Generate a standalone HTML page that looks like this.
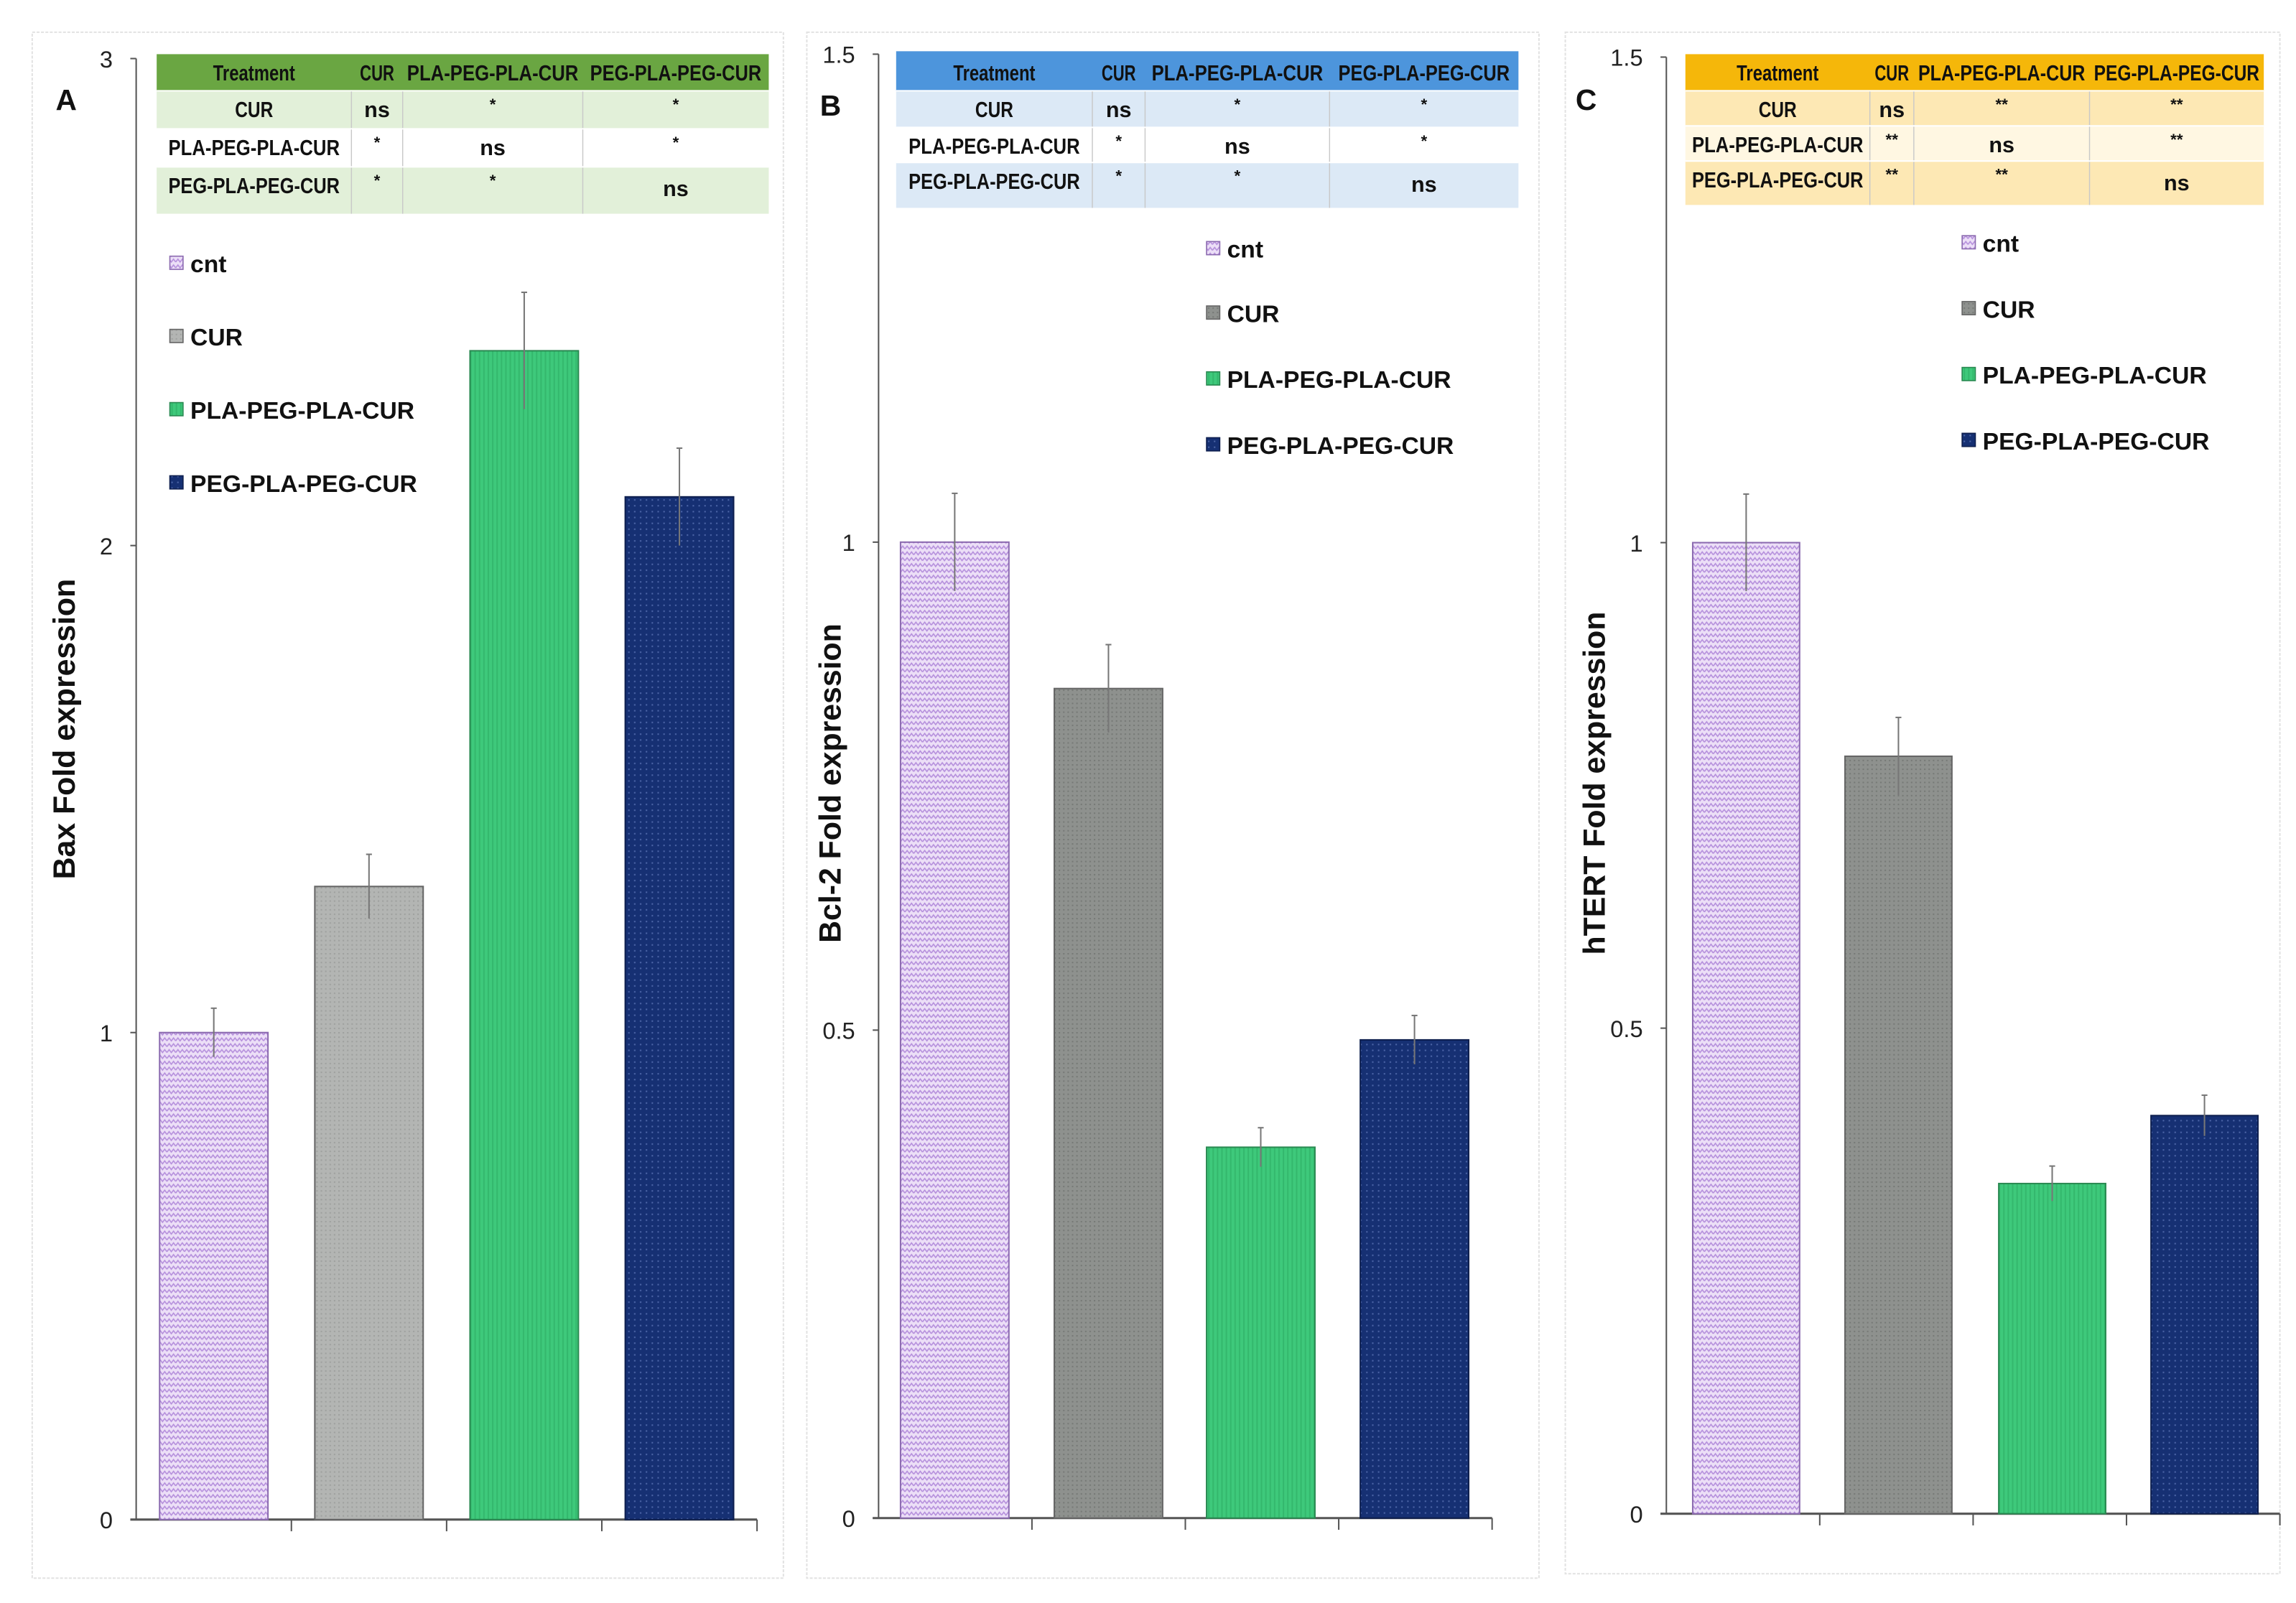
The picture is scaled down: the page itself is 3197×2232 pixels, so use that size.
<!DOCTYPE html>
<html><head><meta charset="utf-8"><style>
html,body{margin:0;padding:0;background:#fff}
svg{display:block}
text{font-family:"Liberation Sans",sans-serif}
</style></head><body>
<svg id="fig" xmlns="http://www.w3.org/2000/svg" width="3197" height="2232" viewBox="0 0 1568 1095" preserveAspectRatio="none">
<defs>
<pattern id="pcnt" width="6" height="4" patternUnits="userSpaceOnUse"><rect width="6" height="4" fill="#ecdff7"/><path d="M0 3 L1.5 1 L3 3 L4.5 1 L6 3" stroke="#b58fdc" stroke-width="0.8" fill="none"/></pattern>
<pattern id="pcurA" width="3" height="3" patternUnits="userSpaceOnUse"><rect width="3" height="3" fill="#b3b5b3"/><rect width="1" height="1" fill="#9ea09e"/></pattern>
<pattern id="pcur" width="3" height="3" patternUnits="userSpaceOnUse"><rect width="3" height="3" fill="#8e918e"/><rect width="1" height="1" fill="#767976"/></pattern>
<pattern id="ppla" width="3" height="3" patternUnits="userSpaceOnUse"><rect width="3" height="3" fill="#3ec97b"/><rect width="1" height="3" fill="#34b86d"/></pattern>
<pattern id="ppeg" width="4" height="4" patternUnits="userSpaceOnUse"><rect width="4" height="4" fill="#163073"/><rect x="1" y="1" width="1" height="1" fill="#4d66a8"/></pattern>
</defs>
<g id="root"></g>
</svg>
<script>
const categories = ["cnt","CUR","PLA-PEG-PLA-CUR","PEG-PLA-PEG-CUR"];
const valuesA = [1.0, 1.3, 2.4, 2.1];
const errorsA = [0.05, 0.066, 0.12, 0.1];
const ticksA = [0, 1, 2, 3];
const valuesB = [1.0, 0.85, 0.38, 0.49];
const errorsB = [0.05, 0.045, 0.02, 0.025];
const ticksB = [0, 0.5, 1, 1.5];
const valuesC = [1.0, 0.78, 0.34, 0.41];
const errorsC = [0.05, 0.04, 0.018, 0.021];
const ticksC = [0, 0.5, 1, 1.5];
const sigA = [["ns","*","*"],["*","ns","*"],["*","*","ns"]];
const sigB = [["ns","*","*"],["*","ns","*"],["*","*","ns"]];
const sigC = [["ns","**","**"],["**","ns","**"],["**","**","ns"]];

const NS="http://www.w3.org/2000/svg";
const root=document.getElementById('root');
function el(tag,attrs,parent,txt){const e=document.createElementNS(NS,tag);for(const k in attrs)e.setAttribute(k,attrs[k]);if(txt!==undefined)e.textContent=txt;(parent||root).appendChild(e);return e;}

const panels=[
 {id:'a',letter:'A',box:[22,22,535,1078],axX:93,y0:1038,yTop:40,max:3,axEnd:517,bars:[109,215,321,427],bw:74,vals:valuesA,errs:errorsA,ticks:ticksA,title:'Bax Fold expression',titleX:45,titleY:498,letterXY:[38,75],
  table:{x:[107,240,275,398,525],y:[37,62,88,114,146],head:'#6aa642',row:['#e2f0d9','#ffffff','#e2f0d9'],sig:sigA},
  leg:{x:116,y:[180,230,280,330]},curFill:'url(#pcurA)'},
 {id:'b',letter:'B',box:[551,22,1051,1078],axX:600,y0:1037,yTop:37,max:1.5,axEnd:1019,bars:[615,720,824,929],bw:74,vals:valuesB,errs:errorsB,ticks:ticksB,title:'Bcl-2 Fold expression',titleX:568,titleY:535,letterXY:[560,79],
  table:{x:[612,746,782,908,1037],y:[35,62,87,111,142],head:'#4d95dc',row:['#dce9f6','#ffffff','#dce9f6'],sig:sigB},
  leg:{x:824,y:[170,214,259,304]},curFill:'url(#pcur)'},
 {id:'c',letter:'C',box:[1069,22,1557,1075],axX:1138,y0:1034,yTop:39,max:1.5,axEnd:1557,bars:[1156,1260,1365,1469],bw:73,vals:valuesC,errs:errorsC,ticks:ticksC,title:'hTERT Fold expression',titleX:1090,titleY:535,letterXY:[1076,75],
  table:{x:[1151,1277,1307,1427,1546],y:[37,62,86,110,140],head:'#f5b70a',row:['#fde8b4','#fff7e2','#fde8b4'],sig:sigC},
  leg:{x:1340,y:[166,211,256,301]},curFill:'url(#pcur)'}
];

panels.forEach(p=>{
  const g=el('g',{});
  
  
  const fr=el('rect',{x:p.box[0],y:p.box[1],width:p.box[2]-p.box[0],height:p.box[3]-p.box[1],fill:'#fff',stroke:'#e2e2e2','stroke-width':1,'stroke-dasharray':'2 1'},g);
  
  
  const yS=v=>p.y0-(v/p.max)*(p.y0-p.yTop);
  const ya=el('line',{x1:p.axX,y1:p.yTop,x2:p.axX,y2:p.y0,stroke:'#555','stroke-width':1},g);
  
  
  p.ticks.forEach(t=>{
    const y=yS(t);
    el('line',{x1:p.axX-4,y1:y,x2:p.axX,y2:y,stroke:'#555'},g);
    const tl=el('text',{x:p.axX-16,y:y+6,'text-anchor':'end','font-size':16,fill:'#222'},g,String(t));
    
    
  });
  const xa=el('line',{x1:p.axX-4,y1:p.y0,x2:p.axEnd,y2:p.y0,stroke:'#555','stroke-width':1.5},g);
  
  
  for(let i=1;i<=4;i++){
    const tx=p.axX+(p.axEnd-p.axX)*i/4;
    el('line',{x1:tx,y1:p.y0,x2:tx,y2:p.y0+8,stroke:'#555'},g);
  }
  const fills=['url(#pcnt)',p.curFill,'url(#ppla)','url(#ppeg)'];
  const strokes=['#8c6bb0','#666','#2a8a52','#0e1f4f'];
  p.vals.forEach((v,i)=>{
    const top=yS(v);
    const b=el('rect',{x:p.bars[i],y:top,width:p.bw,height:p.y0-top,fill:fills[i],stroke:strokes[i],'stroke-width':1},g);
    
    
    const cx=p.bars[i]+p.bw/2;
    const e=el('g',{},g);
    
    
    el('line',{x1:cx,y1:yS(v+p.errs[i]),x2:cx,y2:yS(v-p.errs[i]),stroke:'#777','stroke-width':1},e);
    el('line',{x1:cx-2,y1:yS(v+p.errs[i]),x2:cx+2,y2:yS(v+p.errs[i]),stroke:'#777'},e);
  });
  const yt=el('text',{x:0,y:0,transform:`translate(${p.titleX+6},${p.titleY}) rotate(-90)`,'text-anchor':'middle','font-size':21,'font-weight':'bold',fill:'#111'},g,p.title);
  
  
  const lt=el('text',{x:p.letterXY[0],y:p.letterXY[1],'font-size':20,'font-weight':'bold',fill:'#111'},g,p.letter);
  
  
  const T=p.table;
  const tg=el('g',{},g);
  
  
  el('rect',{x:T.x[0],y:T.y[0],width:T.x[4]-T.x[0],height:T.y[1]-T.y[0],fill:T.head},tg);
  for(let r=0;r<3;r++) el('rect',{x:T.x[0],y:T.y[r+1],width:T.x[4]-T.x[0],height:T.y[r+2]-T.y[r+1],fill:T.row[r]},tg);
  for(let c=1;c<4;c++) el('line',{x1:T.x[c],y1:T.y[1],x2:T.x[c],y2:T.y[4],stroke:'#c8c8c8','stroke-width':0.7},tg);
  for(let r=1;r<4;r++) el('line',{x1:T.x[0],y1:T.y[r],x2:T.x[4],y2:T.y[r],stroke:'#fff','stroke-width':1},tg);
  const heads=['Treatment','CUR','PLA-PEG-PLA-CUR','PEG-PLA-PEG-CUR'];
  const rows=['CUR','PLA-PEG-PLA-CUR','PEG-PLA-PEG-CUR'];
  const fit=(s,w)=>Math.min(w-6, s.length*7.8);
  heads.forEach((h,c)=>{
    const cx=(T.x[c]+T.x[c+1])/2;
    const t=el('text',{x:cx,y:T.y[1]-7,'text-anchor':'middle','font-size':15,'font-weight':'bold',fill:'#111',textLength:(c==0?56:fit(h,T.x[c+1]-T.x[c])),lengthAdjust:'spacingAndGlyphs'},tg,h);
    
    
  });
  rows.forEach((h,r)=>{
    const cx=(T.x[0]+T.x[1])/2;
    const yb=T.y[r+1]+18;
    const t=el('text',{x:cx,y:yb,'text-anchor':'middle','font-size':15,'font-weight':'bold',fill:'#111',textLength:(r==0?26:fit(h,T.x[1]-T.x[0])),lengthAdjust:'spacingAndGlyphs'},tg,h);
    
    
    T.sig[r].forEach((s,c)=>{
      const x=(T.x[c+1]+T.x[c+2])/2;
      const isNs=s==='ns';
      const st=el('text',{x:x,y:isNs?(r==2?T.y[r+1]+20:yb):T.y[r+1]+13,'text-anchor':'middle','font-size':isNs?15:11,'font-weight':'bold',fill:'#111'},tg,s);
      
      
    });
  });
  categories.forEach((cname,i)=>{
    const lg=el('g',{},g);
    
    
    const y=p.leg.y[i];
    el('rect',{x:p.leg.x,y:y-5,width:9,height:9,fill:(i==0?'url(#pcnt)':fills[i]),stroke:strokes[i],'stroke-width':0.8},lg);
    el('text',{x:p.leg.x+14,y:y+6,'font-size':16.5,'font-weight':'bold',fill:'#111'},lg,cname);
  });
});
</script>
</body></html>
